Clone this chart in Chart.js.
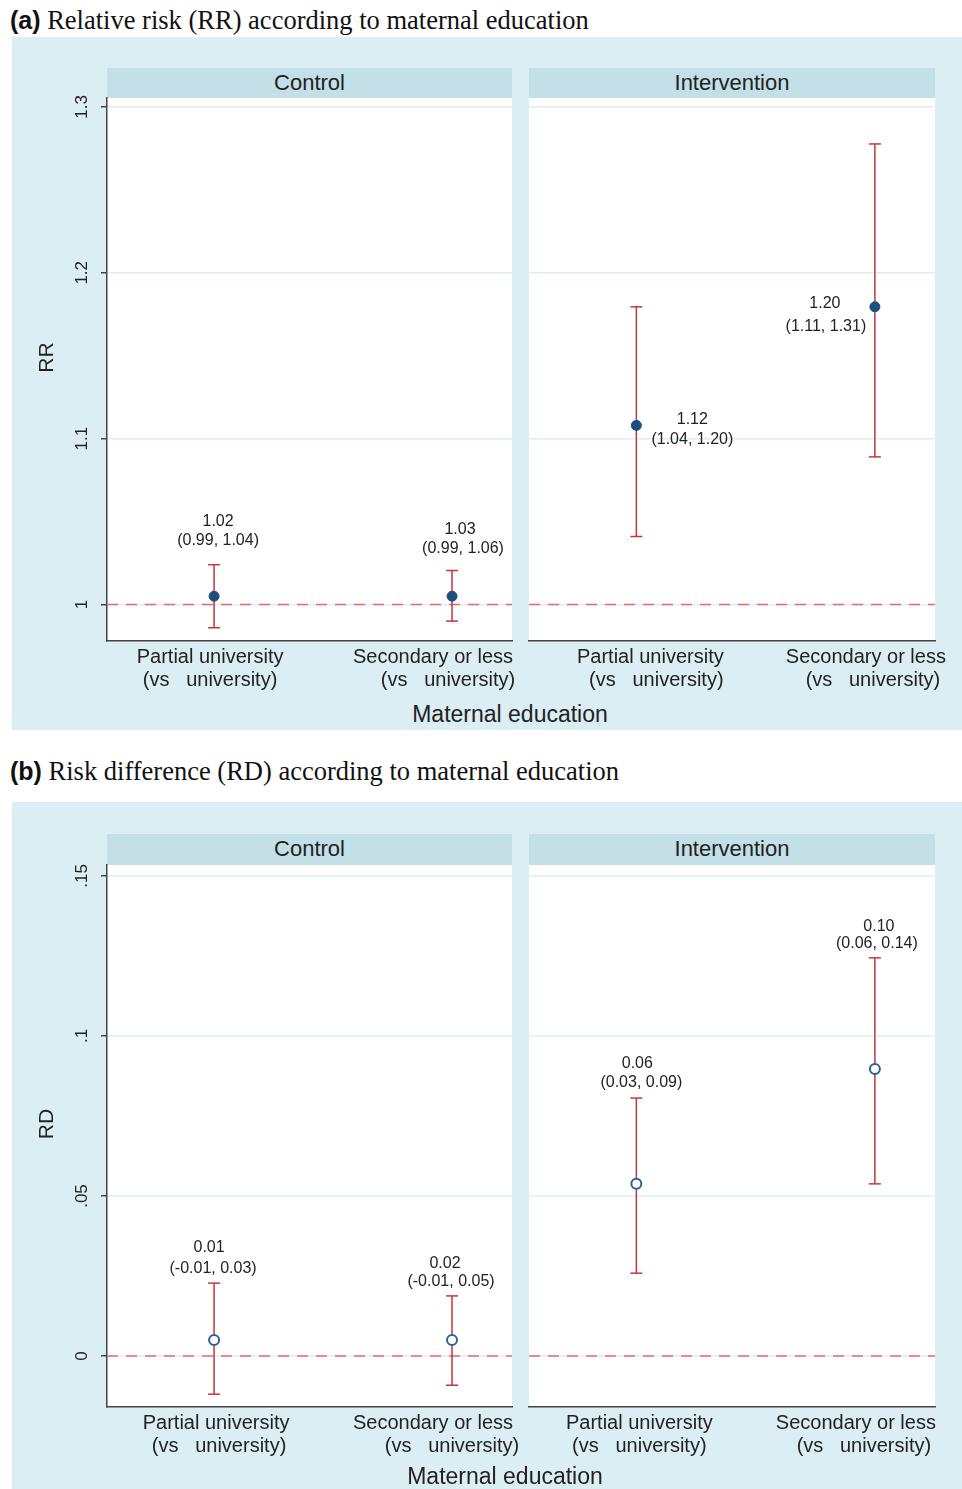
<!DOCTYPE html>
<html>
<head>
<meta charset="utf-8">
<script src="https://cdn.jsdelivr.net/npm/chart.js@4.4.1/dist/chart.umd.min.js"></script>
<style>
  body { margin: 0; background: #fff; font-family: "Liberation Sans", Arial, sans-serif; }
  #page { position: relative; width: 962px; height: 1489px; overflow: hidden; }
  .title { position: absolute; left: 10px; font-family: "Liberation Serif", "Times New Roman", serif; font-size: 26.5px; line-height: 28px; color: #111; white-space: nowrap; }
  .title b { font-family: "Liberation Sans", Arial, sans-serif; font-size: 25px; }
  .bg { position: absolute; left: 12px; width: 950px; background: #dbeef3; }
  .head { position: absolute; height: 30px; line-height: 30px; background: #c3e0e8; text-align: center; font-size: 22px; color: #222; }
  .box { position: absolute; }
  .xtitle { position: absolute; width: 400px; text-align: center; font-size: 23px; line-height: 26px; color: #222; }
</style>
</head>
<body>
<div id="page">
  <div class="title" style="top:6px"><b>(a)</b> Relative risk (RR) according to maternal education</div>
  <div class="bg" style="top:37px;height:693px"></div>
  <div class="head" style="left:107px;top:68px;width:405px">Control</div>
  <div class="head" style="left:529px;top:68px;width:406px">Intervention</div>
  <div class="box" style="left:12px;top:68px"><canvas id="rrControl" width="508" height="633"></canvas></div>
  <div class="box" style="left:520px;top:68px"><canvas id="rrInter" width="442" height="633"></canvas></div>
  <div class="xtitle" style="left:310px;top:701px">Maternal education</div>

  <div class="title" style="top:757px"><b>(b)</b> Risk difference (RD) according to maternal education</div>
  <div class="bg" style="top:802px;height:687px"></div>
  <div class="head" style="left:107px;top:834px;width:405px;height:31px">Control</div>
  <div class="head" style="left:529px;top:834px;width:406px;height:31px">Intervention</div>
  <div class="box" style="left:12px;top:835px"><canvas id="rdControl" width="508" height="632"></canvas></div>
  <div class="box" style="left:520px;top:835px"><canvas id="rdInter" width="442" height="632"></canvas></div>
  <div class="xtitle" style="left:305px;top:1463px">Maternal education</div>
</div>

<script>
// Categories on the x axis
const categories = ['Partial university', 'Secondary or less'];
const categoryNote = '(vs   university)';
const xPos = [1, 2];

// RR (panel a) - positions of the marks as drawn
const rrControlEst = [1.005, 1.005];
const rrControlLo = [0.986, 0.990];
const rrControlHi = [1.024, 1.0205];
const rrInterEst = [1.108, 1.1795];
const rrInterLo = [1.041, 1.089];
const rrInterHi = [1.1795, 1.2777];
// printed values
const rrControlText = [['1.02', '(0.99, 1.04)'], ['1.03', '(0.99, 1.06)']];
const rrInterText = [['1.12', '(1.04, 1.20)'], ['1.20', '(1.11, 1.31)']];
const rrTicks = [1, 1.1, 1.2, 1.3];
const rrTickLabels = ['1', '1.1', '1.2', '1.3'];

// RD (panel b)
const rdControlEst = [0.005, 0.005];
const rdControlLo = [-0.0119, -0.0091];
const rdControlHi = [0.0228, 0.0188];
const rdInterEst = [0.0538, 0.0897];
const rdInterLo = [0.0259, 0.0538];
const rdInterHi = [0.0806, 0.1244];
const rdControlText = [['0.01', '(-0.01, 0.03)'], ['0.02', '(-0.01, 0.05)']];
const rdInterText = [['0.06', '(0.03, 0.09)'], ['0.10', '(0.06, 0.14)']];
const rdTicks = [0, 0.05, 0.1, 0.15];
const rdTickLabels = ['0', '.05', '.1', '.15'];

const RED = '#c7363f';
const NAVY = '#1b4f7e';
const AXIS = '#444';

// draws white plot area, y labels, x labels and point labels
const panelPlugin = {
  id: 'panel',
  beforeDraw(chart) {
    const a = chart.chartArea;
    const ctx = chart.ctx;
    ctx.save();
    ctx.fillStyle = '#fff';
    ctx.fillRect(a.left, a.top, a.right - a.left, a.bottom - a.top);
    ctx.restore();
  },
  afterDraw(chart) {
    const o = chart.options.plugins.panel;
    const a = chart.chartArea;
    const ctx = chart.ctx;
    const xs = chart.scales.x, ys = chart.scales.y;
    ctx.save();
    ctx.fillStyle = '#222';
    ctx.textAlign = 'center';
    ctx.textBaseline = 'middle';

    if (o.yTitle) {
      ctx.font = '17px "Liberation Sans", Arial, sans-serif';
      o.ticks.forEach((v, i) => {
        ctx.save();
        ctx.translate(a.left - 25, ys.getPixelForValue(v));
        ctx.rotate(-Math.PI / 2);
        ctx.fillText(o.tickLabels[i], 0, 0);
        ctx.restore();
      });
      ctx.save();
      ctx.font = '21px "Liberation Sans", Arial, sans-serif';
      ctx.translate(35, (a.top + a.bottom) / 2 - 12);
      ctx.rotate(-Math.PI / 2);
      ctx.fillText(o.yTitle, 0, 0);
      ctx.restore();
    }

    // x category labels
    ctx.font = '20px "Liberation Sans", Arial, sans-serif';
    categories.forEach((c, i) => {
      const px = xs.getPixelForValue(xPos[i]);
      ctx.fillText(c, px + o.xdx[i][0], a.bottom + 16);
      ctx.fillText(categoryNote, px + o.xdx[i][1], a.bottom + 39);
    });

    // estimate labels
    ctx.font = '16px "Liberation Sans", Arial, sans-serif';
    o.text.forEach((t, i) => {
      const px = xs.getPixelForValue(xPos[i]);
      const py = ys.getPixelForValue(o.est[i]);
      const p = o.lab[i];
      ctx.fillText(t[0], px + p[0], py + p[1]);
      ctx.fillText(t[1], px + p[2], py + p[3]);
    });
    ctx.restore();
  }
};

function makeChart(id, cfg) {
  const xMin = 0.55, xMax = 2.252;
  const bars = [];
  const caps = [];
  xPos.forEach((x, i) => {
    bars.push({ x: x, y: cfg.lo[i] }, { x: x, y: cfg.hi[i] }, { x: x, y: null });
    caps.push({ x: x, y: cfg.lo[i] }, { x: x, y: cfg.hi[i] });
  });
  const points = xPos.map((x, i) => ({ x: x, y: cfg.est[i] }));

  new Chart(document.getElementById(id), {
    type: 'scatter',
    data: {
      datasets: [
        {
          data: points,
          pointStyle: 'circle',
          pointRadius: 5,
          pointBackgroundColor: cfg.hollow ? '#fff' : NAVY,
          pointBorderColor: cfg.hollow ? '#2e5f9c' : NAVY,
          pointBorderWidth: cfg.hollow ? 2 : 1
        },
        {
          data: caps,
          pointStyle: 'line',
          pointRadius: 6,
          pointBorderColor: RED,
          pointBorderWidth: 1.5
        },
        {
          type: 'line',
          data: bars,
          spanGaps: false,
          pointRadius: 0,
          borderColor: RED,
          borderWidth: 1.5
        },
        {
          type: 'line',
          data: [{ x: xMin, y: cfg.ref }, { x: xMax, y: cfg.ref }],
          pointRadius: 0,
          borderColor: '#e56b72',
          borderWidth: 1.5,
          borderDash: [11, 8]
        }
      ]
    },
    options: {
      responsive: false,
      animation: false,
      devicePixelRatio: 1,
      layout: { autoPadding: false, padding: cfg.padding },
      plugins: {
        legend: { display: false },
        tooltip: { enabled: false },
        panel: cfg.panel
      },
      scales: {
        x: {
          type: 'linear', min: xMin, max: xMax,
          grid: { display: false },
          border: { display: true, color: AXIS, width: 1.5 },
          ticks: { display: false },
          afterFit(s) { s.height = 60; }
        },
        y: {
          type: 'linear', min: cfg.min, max: cfg.max,
          afterBuildTicks(s) { s.ticks = cfg.ticks.map(v => ({ value: v })); },
          grid: {
            color: '#deeef3', lineWidth: 1.5,
            drawTicks: cfg.axis, tickLength: 6, tickColor: AXIS, tickWidth: 1.5
          },
          border: { display: cfg.axis, color: AXIS, width: 1.5 },
          ticks: { display: false },
          afterFit(s) { s.width = cfg.axis ? 95 : 0; }
        }
      }
    },
    plugins: [panelPlugin]
  });
}

makeChart('rrControl', {
  est: rrControlEst, lo: rrControlLo, hi: rrControlHi, ref: 1,
  min: 0.978, max: 1.3054, ticks: rrTicks, axis: true, hollow: false,
  padding: { left: 0, right: 8, top: 30, bottom: 0 },
  panel: {
    yTitle: 'RR', ticks: rrTicks, tickLabels: rrTickLabels,
    est: rrControlEst, text: rrControlText,
    lab: [[4, -75, 4, -56], [8, -67, 11, -48]],
    xdx: [[-4, -4], [-19, -4]]
  }
});
makeChart('rrInter', {
  est: rrInterEst, lo: rrInterLo, hi: rrInterHi, ref: 1,
  min: 0.978, max: 1.3054, ticks: rrTicks, axis: false, hollow: false,
  padding: { left: 9, right: 27, top: 30, bottom: 0 },
  panel: {
    est: rrInterEst, text: rrInterText,
    lab: [[56, -6, 56, 14], [-50, -3, -49, 20]],
    xdx: [[14, 20], [-9, -2]]
  }
});
makeChart('rdControl', {
  est: rdControlEst, lo: rdControlLo, hi: rdControlHi, ref: 0,
  min: -0.0159, max: 0.1534, ticks: rdTicks, axis: true, hollow: true,
  padding: { left: 0, right: 8, top: 30, bottom: 0 },
  panel: {
    yTitle: 'RD', ticks: rdTicks, tickLabels: rdTickLabels,
    est: rdControlEst, text: rdControlText,
    lab: [[-5, -92, -1, -71], [-7, -76, -1, -58]],
    xdx: [[2, 5], [-19, 0]]
  }
});
makeChart('rdInter', {
  est: rdInterEst, lo: rdInterLo, hi: rdInterHi, ref: 0,
  min: -0.0159, max: 0.1534, ticks: rdTicks, axis: false, hollow: true,
  padding: { left: 9, right: 27, top: 30, bottom: 0 },
  panel: {
    est: rdInterEst, text: rdInterText,
    lab: [[1, -120, 5, -101], [4, -142, 2, -125]],
    xdx: [[3, 3], [-19, -11]]
  }
});
</script>
</body>
</html>
